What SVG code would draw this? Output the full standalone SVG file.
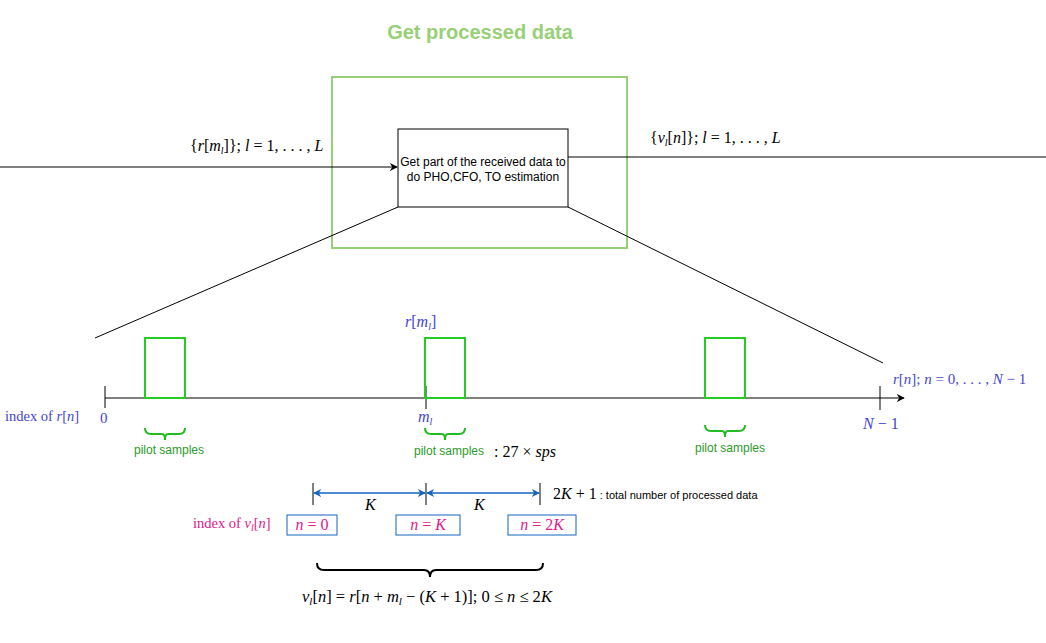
<svg xmlns="http://www.w3.org/2000/svg" width="1046" height="643" viewBox="0 0 1046 643">
<defs>
<style>
.m{font-family:"Liberation Serif","DejaVu Serif",serif;font-size:15px}
.i{font-style:italic}
.sub{font-style:italic;font-size:10px}
.s{font-family:"Liberation Sans",Arial,sans-serif}
.blue{fill:#4545D0}
.pink{fill:#E0208C}
.pl{font-family:"Liberation Sans",Arial,sans-serif;font-size:12px;fill:#2A9A2A;text-anchor:middle}
.gbox{fill:none;stroke:#22CC22;stroke-width:2}
.br{fill:none;stroke:#22BB22;stroke-width:2}
</style>
<marker id="ah" viewBox="0 0 10 10" refX="9" refY="5" markerWidth="8" markerHeight="8" orient="auto" markerUnits="userSpaceOnUse"><path d="M0,0 L10,5 L0,10 L3,5 Z" fill="#000"/></marker>
<marker id="bh" viewBox="0 0 10 10" refX="9" refY="5" markerWidth="8" markerHeight="8" orient="auto-start-reverse" markerUnits="userSpaceOnUse"><path d="M0,0 L10,5 L0,10 L3,5 Z" fill="#1565C0"/></marker>
</defs>
<rect width="1046" height="643" fill="#fff"/>
<text x="480" y="39" text-anchor="middle" class="s" style="font-size:20px;font-weight:bold" fill="#97D077">Get processed data</text>
<g id="outer"><rect x="332" y="77" width="295" height="171" fill="none" stroke="#97D077" stroke-width="2"/></g>
<g id="proc">
<rect x="398" y="129" width="170" height="78" fill="#fff" stroke="#000" stroke-width="1"/>
<text class="s" style="font-size:12px" text-anchor="middle"><tspan x="483" y="166">Get part of the received data to</tspan><tspan x="483" y="181">do PHO,CFO, TO estimation</tspan></text>
</g>
<g id="connectors" stroke="#000" stroke-width="1" fill="none">
<line x1="0" y1="167" x2="397" y2="167" marker-end="url(#ah)"/>
<line x1="568" y1="157" x2="1046" y2="157"/>
<line x1="398" y1="207" x2="95" y2="338"/>
<line x1="568" y1="207" x2="883" y2="363"/>
</g>
<text class="m" x="190" y="151" style="font-size:16px">{<tspan class="i">r</tspan>[<tspan class="i">m</tspan><tspan class="sub" dy="3">l</tspan><tspan dy="-3">]}; </tspan><tspan class="i">l</tspan> = 1, . . . , <tspan class="i">L</tspan></text>
<text class="m" x="650" y="143" style="font-size:16px">{<tspan class="i">v</tspan><tspan class="sub" dy="3">l</tspan><tspan dy="-3">[</tspan><tspan class="i">n</tspan>]}; <tspan class="i">l</tspan> = 1, . . . , <tspan class="i">L</tspan></text>
<g id="axis" stroke="#000" stroke-width="1" fill="none">
<line x1="105" y1="398" x2="904" y2="398" marker-end="url(#ah)"/>
<line x1="105" y1="386" x2="105" y2="408"/>
<line x1="426" y1="386" x2="426" y2="409"/>
<line x1="880" y1="386" x2="880" y2="410"/>
</g>
<g id="pilot1"><rect class="gbox" x="145" y="338" width="40" height="60"/><path class="br" d="M145,428 Q145,434 151,434 L162,434 Q165,434 165,440 Q165,434 168,434 L179,434 Q185,434 185,428"/><text class="pl" x="169" y="454">pilot samples</text></g>
<g id="pilot2"><rect class="gbox" x="425" y="338" width="40" height="60"/><path class="br" d="M425,428 Q425,434 431,434 L442,434 Q445,434 445,440 Q445,434 448,434 L459,434 Q465,434 465,428"/><text class="pl" x="449" y="455">pilot samples</text></g>
<g id="pilot3"><rect class="gbox" x="705" y="338" width="40" height="60"/><path class="br" d="M705,425 Q705,431 711,431 L722,431 Q725,431 725,437 Q725,431 728,431 L739,431 Q745,431 745,425"/><text class="pl" x="730" y="452">pilot samples</text></g>
<text class="m blue" x="5" y="421" style="font-size:14.5px">index of <tspan class="i">r</tspan>[<tspan class="i">n</tspan>]</text>
<text class="m blue" x="100" y="423" style="font-size:15px">0</text>
<text class="m blue" x="405" y="327" style="font-size:16px"><tspan class="i">r</tspan>[<tspan class="i">m</tspan><tspan class="sub" dy="3">l</tspan><tspan dy="-3">]</tspan></text>
<text class="m blue" x="418" y="422" style="font-size:16px"><tspan class="i">m</tspan><tspan class="sub" dy="3">l</tspan></text>
<text class="m" x="494" y="457" style="font-size:16px">: 27 × <tspan class="i">sps</tspan></text>
<text class="m blue" x="893" y="384" style="font-size:15px"><tspan class="i">r</tspan>[<tspan class="i">n</tspan>];  <tspan class="i">n</tspan> = 0, . . . , <tspan class="i">N</tspan> − 1</text>
<text class="m blue" x="863" y="429" style="font-size:16px"><tspan class="i">N</tspan> − 1</text>
<g id="dims">
<g stroke="#000" stroke-width="1"><line x1="313" y1="483" x2="313" y2="505"/><line x1="426" y1="483" x2="426" y2="505"/><line x1="540" y1="483" x2="540" y2="505"/></g>
<g stroke="#1565C0" stroke-width="1.3"><line x1="314" y1="493" x2="425" y2="493" marker-start="url(#bh)" marker-end="url(#bh)"/><line x1="427" y1="493" x2="539" y2="493" marker-start="url(#bh)" marker-end="url(#bh)"/></g>
<text class="m i" x="365" y="510" style="font-size:16px">K</text>
<text class="m i" x="474" y="510" style="font-size:16px">K</text>
</g>
<text class="m" x="553" y="499" style="font-size:16px">2<tspan class="i">K</tspan> + 1<tspan class="s" style="font-size:11px"> : total number of processed data</tspan></text>
<text class="m pink" x="193" y="528" style="font-size:14.5px">index of <tspan class="i">v</tspan><tspan class="sub" dy="3">l</tspan><tspan dy="-3">[</tspan><tspan class="i">n</tspan>]</text>
<g id="v0"><rect x="287" y="515" width="50" height="20" fill="none" stroke="#1565C0"/><text class="m pink" x="312" y="530" text-anchor="middle" style="font-size:16px"><tspan class="i">n</tspan> = 0</text></g>
<g id="vK"><rect x="396" y="515" width="64" height="20" fill="none" stroke="#1565C0"/><text class="m pink" x="428" y="530" text-anchor="middle" style="font-size:16px"><tspan class="i">n</tspan> = <tspan class="i">K</tspan></text></g>
<g id="v2K"><rect x="508" y="515" width="68" height="20" fill="none" stroke="#1565C0"/><text class="m pink" x="542" y="530" text-anchor="middle" style="font-size:16px"><tspan class="i">n</tspan> = 2<tspan class="i">K</tspan></text></g>
<path d="M317,563 Q317,570 324,570 L424,570 Q430,570 430,577 Q430,570 436,570 L536,570 Q543,570 543,563" fill="none" stroke="#000" stroke-width="2"/>
<text class="m" x="302" y="602" style="font-size:16.5px"><tspan class="i">v</tspan><tspan class="sub" dy="3" style="font-size:11px">l</tspan><tspan dy="-3">[</tspan><tspan class="i">n</tspan>] = <tspan class="i">r</tspan>[<tspan class="i">n</tspan> + <tspan class="i">m</tspan><tspan class="sub" dy="3" style="font-size:11px">l</tspan><tspan dy="-3"> − (</tspan><tspan class="i">K</tspan> + 1)];   0 ≤ <tspan class="i">n</tspan> ≤ 2<tspan class="i">K</tspan></text>
</svg>
